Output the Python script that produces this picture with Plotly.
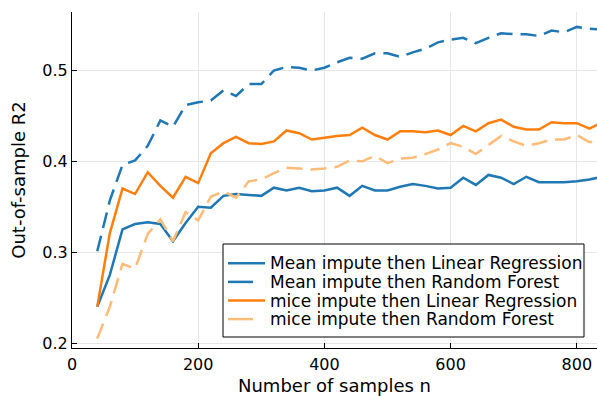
import plotly.graph_objects as go

n_samples = list(range(40, 841, 20))

mean_lr = [0.240, 0.275, 0.325, 0.331, 0.333, 0.331, 0.312, 0.332, 0.350, 0.349,
           0.362, 0.364, 0.363, 0.362, 0.371, 0.368, 0.371, 0.367, 0.368, 0.371,
           0.362, 0.373, 0.368, 0.368, 0.372, 0.375, 0.373, 0.370, 0.371, 0.382,
           0.374, 0.385, 0.382, 0.375, 0.383, 0.377, 0.377, 0.377, 0.378, 0.380,
           0.383]

mean_rf = [0.301, 0.357, 0.396, 0.401, 0.417, 0.445, 0.438, 0.462, 0.465, 0.467,
           0.478, 0.472, 0.485, 0.485, 0.500, 0.504, 0.503, 0.500, 0.503, 0.509,
           0.514, 0.513, 0.519, 0.519, 0.515, 0.520, 0.524, 0.531, 0.534, 0.536,
           0.530, 0.536, 0.541, 0.540, 0.540, 0.538, 0.544, 0.542, 0.548, 0.546,
           0.545]

mice_lr = [0.240, 0.321, 0.370, 0.364, 0.388, 0.373, 0.360, 0.383, 0.376, 0.409,
           0.420, 0.427, 0.420, 0.419, 0.422, 0.434, 0.431, 0.424, 0.426, 0.428,
           0.429, 0.437, 0.429, 0.424, 0.433, 0.433, 0.432, 0.434, 0.429, 0.439,
           0.433, 0.442, 0.446, 0.438, 0.435, 0.435, 0.443, 0.442, 0.442, 0.436,
           0.443]

mice_rf = [0.205, 0.240, 0.287, 0.282, 0.320, 0.336, 0.312, 0.344, 0.335, 0.361,
           0.367, 0.360, 0.378, 0.380, 0.387, 0.393, 0.392, 0.391, 0.392, 0.394,
           0.401, 0.400, 0.406, 0.398, 0.403, 0.404, 0.408, 0.413, 0.420, 0.416,
           0.408, 0.418, 0.428, 0.422, 0.417, 0.420, 0.424, 0.424, 0.429, 0.421,
           0.423]

series_names = ["Mean impute then Linear Regression", "Mean impute then Random Forest",
                "mice impute then Linear Regression", "mice impute then Random Forest"]
series_values = [mean_lr, mean_rf, mice_lr, mice_rf]
series_colors = ["#1f77b4", "#1f77b4", "#ff7f0e", "#ffbb78"]
series_dashed = [False, True, False, True]

x_ticks = [0, 200, 400, 600, 800]
y_ticks = [0.2, 0.3, 0.4, 0.5]

W, H = 597, 396
ML, MR, MT, MB = 72, 0, 12, 48
PW, PH = W - ML - MR, H - MT - MB
DASH = "16px,8px"

def px_x(p):
    return (p - ML) / PW

def px_y(p):
    return (H - MB - p) / PH

fig = go.Figure()
for name, vals, color, dashed in zip(series_names, series_values, series_colors, series_dashed):
    fig.add_trace(go.Scatter(x=n_samples, y=vals, mode="lines", name=name, showlegend=False,
                             line=dict(color=color, width=2.5, dash=DASH if dashed else "solid")))

font = "DejaVu Sans"
axis_common = dict(
    showline=True, linecolor="black", linewidth=1, mirror=False,
    showgrid=True, gridcolor="#e6e6e6", gridwidth=1,
    ticks="inside", ticklen=5, tickcolor="black", tickwidth=1,
    zeroline=False, tickfont=dict(family=font, size=16, color="black"),
)

# custom legend box (Plots.jl style)
shapes = [dict(type="rect", xref="paper", yref="paper",
               x0=px_x(223), x1=px_x(584), y0=px_y(337), y1=px_y(244),
               line=dict(color="black", width=1), fillcolor="white", layer="above")]
annotations = []
row_y = [263.3, 281.9, 300.5, 319.1]
for name, color, dashed, ry in zip(series_names, series_colors, series_dashed, row_y):
    x_end = 253 if dashed else 265
    shapes.append(dict(type="line", xref="paper", yref="paper",
                       x0=px_x(228), x1=px_x(x_end), y0=px_y(ry), y1=px_y(ry),
                       line=dict(color=color, width=2.5), layer="above"))
    annotations.append(dict(xref="paper", yref="paper", x=px_x(268), y=px_y(ry),
                            xanchor="left", yanchor="middle", showarrow=False,
                            text=name, font=dict(family=font, size=17, color="black")))

fig.update_layout(
    width=W, height=H,
    margin=dict(l=ML, r=MR, t=MT, b=MB),
    paper_bgcolor="white", plot_bgcolor="white",
    font=dict(family=font, color="black"),
    xaxis=dict(range=[0, 832], tickvals=x_ticks, ticktext=[str(v) for v in x_ticks],
               ticklabelstandoff=2,
               title=dict(text="Number of samples n", font=dict(family=font, size=18), standoff=6),
               **axis_common),
    yaxis=dict(range=[0.1945, 0.5644], tickvals=y_ticks, ticktext=[str(v) for v in y_ticks],
               title=dict(text="Out-of-sample R2", font=dict(family=font, size=18), standoff=12),
               **axis_common),
    shapes=shapes, annotations=annotations,
    showlegend=False,
)

fig.write_html("out.html")
